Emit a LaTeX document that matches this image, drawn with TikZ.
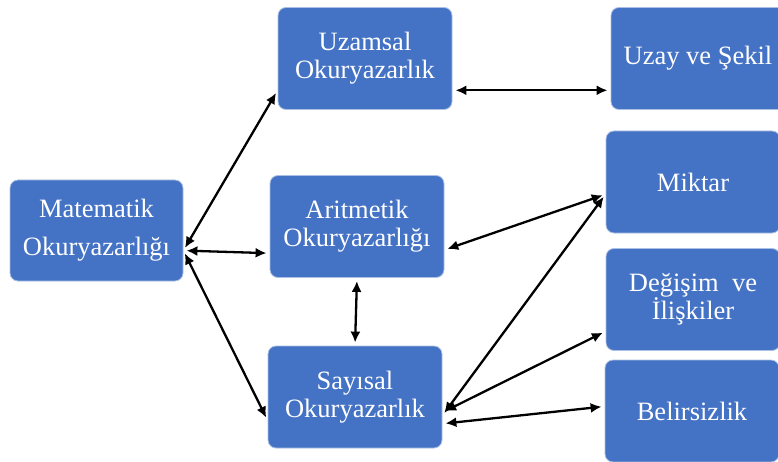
\documentclass[tikz,border=0pt]{standalone}
\usepackage{fontspec}
\setmainfont{Liberation Serif}
\usetikzlibrary{arrows.meta}
\definecolor{BoxBlue}{HTML}{4472C4}
\def\BoxColor{BoxBlue}

\begin{document}
\begin{tikzpicture} [x=1pt, y=-1pt,
     N/.style = {draw=\BoxColor!45!white, line width=0.8pt, fill=\BoxColor, rounded corners=8pt,
                 minimum width=174pt, minimum height=102pt, align=center, text=white,
                 font=\fontsize{26.5}{28}\selectfont},
    every edge/.style={draw, {Latex[length=11pt,width=10pt]}-{Latex[length=11pt,width=10pt]},
                 line width=2.3pt, shorten >=3pt, shorten <=3pt}
]
  \useasboundingbox (0,0) rectangle (778,462);

  % Nodes and Positions
  % LEFT
  \node[N, minimum width=173pt, minimum height=101pt,
        font=\fontsize{26.5}{38}\selectfont] (mat) at (96.5,230.5) {Matematik\\Okuryazarlığı};

  % MIDDLE
  \node[N] (uza) at (365,58.5)  {Uzamsal\\Okuryazarlık};
  \node[N] (ari) at (357,226.5) {Aritmetik\\Okuryazarlığı};
  \node[N] (say) at (355,397)   {Sayısal\\Okuryazarlık};

  % RIGHT
  \node[N] (uzs) at (698,58.5)  {Uzay ve Şekil};
  \node[N] (mik) at (693,182)   {Miktar};
  \node[N] (deg) at (693,299.5) {Değişim~ ve\\İlişkiler};
  \node[N] (bel) at (692,411)   {Belirsizlik};

  % Edges
  \path (mat.-13) edge (uza.200);
  \path (mat.-13) edge (ari.197);
  \path (mat.-13) edge (say.195);

  \path (uza.-20) edge (uzs.200);
  \path (ari.-15) edge (mik.188);
  \path (ari.south) edge (say.north);

  \path (say.-12) edge (mik.188);
  \path (say.-10) edge (deg.200);
  \path (say.-17) edge (bel.177);

\end{tikzpicture}
\end{document}
